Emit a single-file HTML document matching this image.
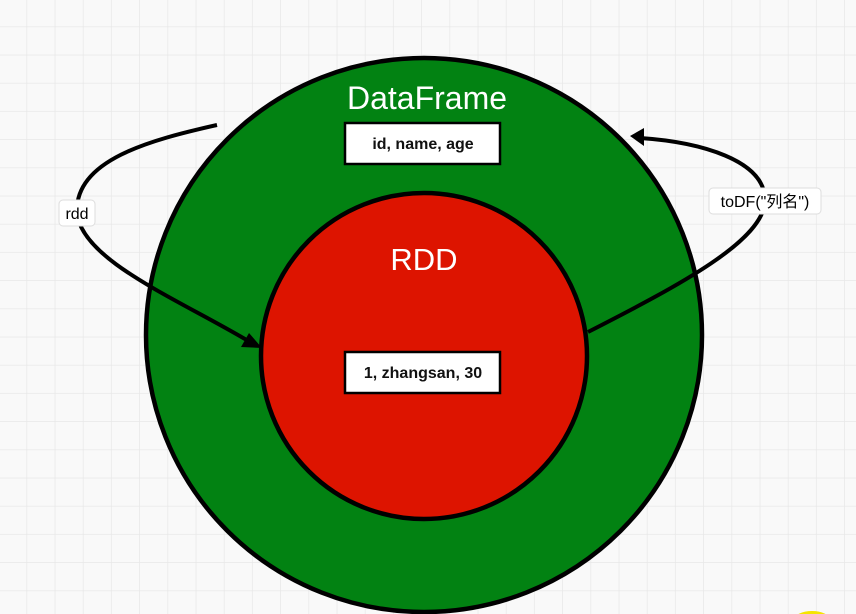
<!DOCTYPE html>
<html><head><meta charset="utf-8"><style>
html,body{margin:0;padding:0;width:856px;height:614px;overflow:hidden;background:#f9f9f9}
svg{display:block}
</style></head><body>
<svg width="856" height="614" xmlns="http://www.w3.org/2000/svg">
<defs>
<pattern id="g" width="28.2" height="28.2" patternUnits="userSpaceOnUse" x="-1" y="-1">
<path d="M28.2 0V28.2H0" fill="none" stroke="#e8e8e8" stroke-width="1.5"/>
</pattern>
</defs>
<rect width="856" height="614" fill="#f9f9f9"/>
<rect width="856" height="614" fill="url(#g)"/>
<ellipse cx="812" cy="620" rx="18" ry="9" fill="#f5e400"/>
<ellipse cx="424" cy="335" rx="278" ry="277" fill="#028212" stroke="#000" stroke-width="4.5"/>
<circle cx="424" cy="356" r="163" fill="#dd1400" stroke="#000" stroke-width="4.5"/>
<text x="427" y="109" text-anchor="middle" font-family="Liberation Sans, sans-serif" font-size="32" fill="#fff">DataFrame</text>
<text x="424" y="270" text-anchor="middle" font-family="Liberation Sans, sans-serif" font-size="31" fill="#fff">RDD</text>
<rect x="345" y="123" width="155" height="41" fill="#fff" stroke="#000" stroke-width="2.5"/>
<text x="423" y="149" text-anchor="middle" font-family="Liberation Sans, sans-serif" font-size="16" font-weight="bold" fill="#111">id, name, age</text>
<rect x="345" y="352" width="155" height="41" fill="#fff" stroke="#000" stroke-width="2.5"/>
<text x="423" y="378" text-anchor="middle" font-family="Liberation Sans, sans-serif" font-size="16" font-weight="bold" fill="#111">1, zhangsan, 30</text>
<path d="M217 125 C150 140 75 160 77 212 C80 260 180 300 250 342" fill="none" stroke="#000" stroke-width="4"/>
<polygon points="262,348 241,347 249,333" fill="#000"/>
<rect x="59" y="200" width="36" height="26" rx="4" fill="#fff" stroke="#ddd"/>
<text x="77" y="219" text-anchor="middle" font-family="Liberation Sans, sans-serif" font-size="16" fill="#000">rdd</text>
<path d="M588 332 C680 285 765 240 765 200 C765 160 700 142 640 138" fill="none" stroke="#000" stroke-width="4"/>
<polygon points="630,136 644,128 644,146" fill="#000"/>
<rect x="709" y="188" width="112" height="26" rx="4" fill="#fff" stroke="#ddd"/>
<text x="765" y="207" text-anchor="middle" font-family="Liberation Sans, 'Noto Sans CJK SC', sans-serif" font-size="16" fill="#000">toDF("列名")</text>
</svg>
</body></html>
